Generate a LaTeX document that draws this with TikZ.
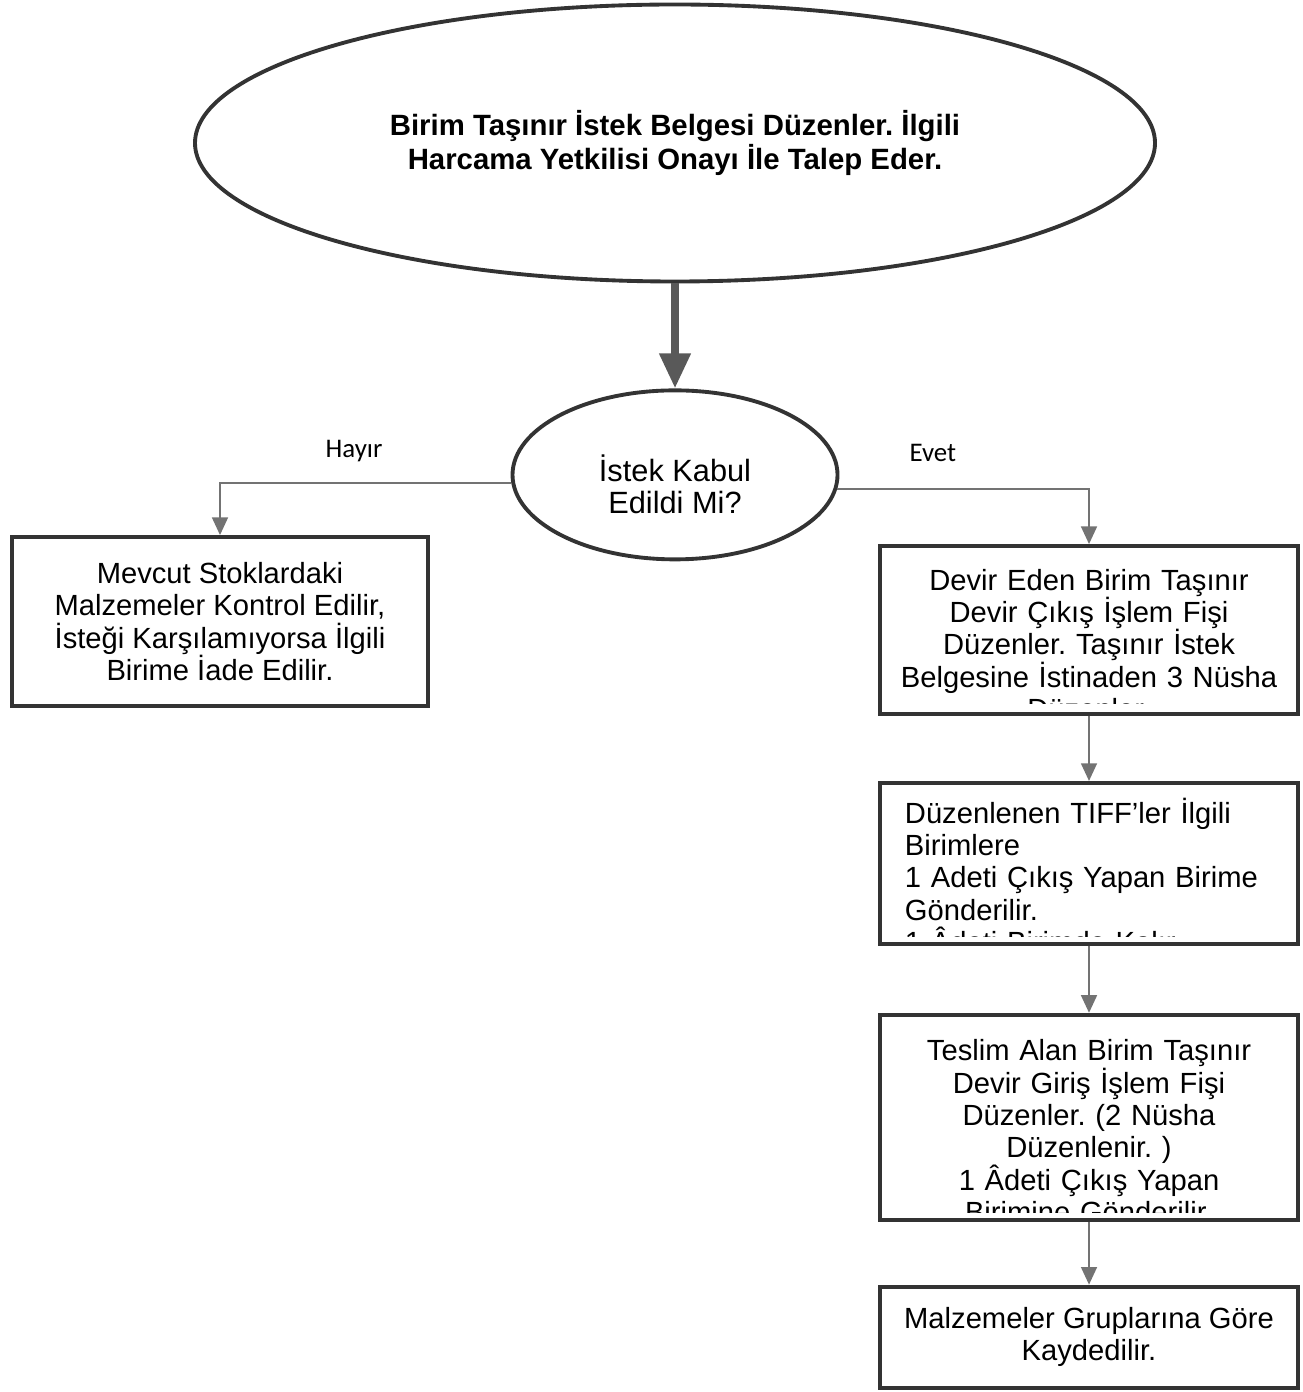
\documentclass[tikz,border=0pt]{standalone}
\usepackage{fontspec}
\setmainfont{Liberation Sans}
\newfontfamily\labelfont{Carlito}
\usetikzlibrary{positioning, shapes.geometric, arrows.meta}
\frenchspacing

\begin{document}
\begin{tikzpicture}[
    node distance = 1.30cm,
    % Styles for the boxes, ellipses and connectors
    stepbox/.style = {draw=black!80, line width=2.2pt, minimum width=8.36cm, inner sep=0pt},
    boxtext/.style = {text width=8cm, align=center, font=\fontsize{16.6}{18.4}\selectfont, inner sep=0pt},
    branch/.style = {font=\labelfont\fontsize{15.3}{17}\selectfont},
    connector/.style = {draw=black!55, line width=1.1pt, -{Triangle[width=9pt, length=10pt]}},
]

\useasboundingbox (0,0) rectangle (26.04,-27.84);

% Top ellipse
\node[ellipse, draw=black!80, line width=2.2pt, minimum width=19.2cm, minimum height=5.54cm, align=center,
    font=\fontsize{16.7}{19.3}\selectfont\bfseries] (request) at (13.5,-2.86) {
    Birim Taşınır İstek Belgesi Düzenler. İlgili\\
    Harcama Yetkilisi Onayı İle Talep Eder.
};

% Decision
\node[ellipse, draw=black!80, line width=2.2pt, minimum width=6.5cm, minimum height=3.38cm, align=center,
    font=\fontsize{17.5}{18.1}\selectfont, below=2.1cm of request] (accepted) {
    \rule{0pt}{26pt}İstek Kabul\\
    Edildi Mi?
};

% Left box
\node[stepbox, minimum width=8.32cm, minimum height=3.38cm, align=center,
    font=\fontsize{16.6}{18.4}\selectfont] (stock) at (4.40,-12.43) {
    Mevcut Stoklardaki\\
    Malzemeler Kontrol Edilir,\\
    İsteği Karşılamıyorsa İlgili\\
    Birime İade Edilir.
};

% Right column, text is cut off above the lower edge of the box
\node[stepbox, minimum height=3.36cm, path picture={
    \clip ([yshift=0.22cm]path picture bounding box.south west) rectangle (path picture bounding box.north east);
    \node[boxtext, anchor=north] at ([yshift=-0.25cm]path picture bounding box.north) {
        Devir Eden Birim Taşınır\\
        Devir Çıkış İşlem Fişi\\
        Düzenler. Taşınır İstek\\
        Belgesine İstinaden 3 Nüsha\\
        Düzenler.
    };}] (transfer) at (21.78,-12.6) {};

\node[stepbox, minimum height=3.22cm, below=of transfer, path picture={
    \clip ([yshift=0.14cm]path picture bounding box.south west) rectangle (path picture bounding box.north east);
    \node[boxtext, text width=7.8cm, align=left, anchor=north west] at ([xshift=0.18cm, yshift=-0.2cm]path picture bounding box.north west) {
        Düzenlenen TIFF’ler İlgili\\
        Birimlere\\
        1 Adeti Çıkış Yapan Birime\\
        Gönderilir.\\
        1 Âdeti Birimde Kalır.
    };}] (tiff) {};

\node[stepbox, minimum height=4.1cm, below=1.34cm of tiff, path picture={
    \clip ([yshift=0.14cm]path picture bounding box.south west) rectangle (path picture bounding box.north east);
    \node[boxtext, anchor=north] at ([yshift=-0.24cm]path picture bounding box.north) {
        Teslim Alan Birim Taşınır\\
        Devir Giriş İşlem Fişi\\
        Düzenler. (2 Nüsha\\
        Düzenlenir. )\\
        1 Âdeti Çıkış Yapan\\
        Birimine Gönderilir.
    };}] (receive) {};

\node[stepbox, minimum height=2.02cm, below=1.26cm of receive, align=center,
    font=\fontsize{16.6}{18.4}\selectfont] (record) {
    Malzemeler Gruplarına Göre\\
    Kaydedilir.
};

% Connectors
\draw[draw=black!65, line width=4.5pt, -{Triangle[width=17pt, length=20pt]}] (request) -- (accepted);
\draw[connector] (accepted.183) -| (stock.north) node[branch, pos=0.27, above=0.3cm] {Hayır};
\draw[connector] (accepted.355) -| (transfer.north) node[branch, pos=0.19, above=0.42cm] {Evet};
\draw[connector] (transfer) -- (tiff);
\draw[connector] (tiff) -- (receive);
\draw[connector] (receive) -- (record);

\end{tikzpicture}
\end{document}
